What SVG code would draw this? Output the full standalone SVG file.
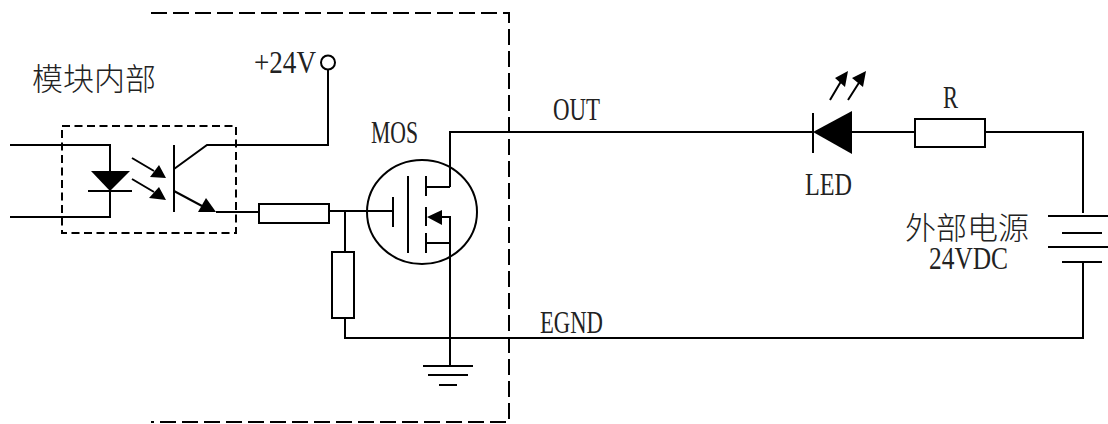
<svg xmlns="http://www.w3.org/2000/svg" width="1108" height="424" viewBox="0 0 1108 424">
<style>
.w{fill:none;stroke:#000;stroke-width:2}
.t{stroke:#000;stroke-width:2;fill:none}
.d{fill:none;stroke:#000;stroke-width:2;stroke-dasharray:16 6}
.o{fill:none;stroke:#000;stroke-width:2;stroke-dasharray:8 4.5}
.f{fill:#000}
.r{fill:#fff;stroke:#000;stroke-width:2}
text{fill:#222}
.cn{font-family:"Noto Sans CJK SC",sans-serif;font-weight:300;font-size:31px}
.l{font-family:"Liberation Serif","Noto Sans CJK SC",serif;font-size:32px;lengthAdjust:spacingAndGlyphs}
</style>
<g id="boundary"><path class="d" d="M151 13H509V422H151"/></g>
<g id="connectors">
<path class="w" d="M10 145H110V217H10"/>
<path class="w" d="M174 169L207 145H328V70"/>
<path class="w" d="M216 212H259"/>
<path class="w" d="M329 211H393"/>
<path class="w" d="M345 211V252"/>
<path class="w" d="M345 318V338H1083V262"/>
<path class="w" d="M450 187V132H813"/>
<path class="w" d="M852 132H915"/>
<path class="w" d="M985 132H1083V213"/>
<path class="w" d="M436 217H450V365"/>
<path class="w" d="M426 187H450M426 243H450"/>
</g>
<g id="optocoupler">
<path class="o" d="M62 126H236V233H62Z"/>
<path class="f" d="M91 171H130L110 191Z"/>
<path class="t" d="M88 191H132"/>
<path class="t" d="M132 158L154 171M132 179L154 192"/>
<path class="f" d="M166 178L150 177L159 165ZM166 200L149 198L159 187Z"/>
<path class="t" d="M174 145V212"/>
<path class="t" d="M174 191L202 206"/>
<path class="f" d="M216 212L198 212L206 198Z"/>
</g>
<g id="module-label"><text class="cn" x="32" y="90">模块内部</text></g>
<g id="supply-pin"><circle class="t" cx="328" cy="62.500" r="7"/><text class="l" x="254" y="73" textLength="62" lengthAdjust="spacingAndGlyphs">+24V</text></g>
<g id="r-gate"><rect class="r" x="259" y="204" width="70" height="19"/></g>
<g id="r-pull"><rect class="r" x="332" y="252" width="22" height="66"/></g>
<g id="mos">
<ellipse class="t" cx="422" cy="212" rx="55" ry="52"/>
<path class="t" d="M393 197V227M408 176V253M426 176V196M426 207V226M426 233V253"/>
<path class="f" d="M427 217L442 210V225Z"/>
<text class="l" x="371" y="143" textLength="47" lengthAdjust="spacingAndGlyphs">MOS</text>
</g>
<g id="led">
<path class="f" d="M813 132L852 111V154Z"/>
<path class="t" d="M813 113V153"/>
<path class="t" d="M830 100L843 78M848 100L862 78"/>
<path class="f" d="M848 71L835 78L845 87ZM866 71L852 78L863 87Z"/>
<text class="l" x="805" y="195" textLength="47" lengthAdjust="spacingAndGlyphs">LED</text>
</g>
<g id="r-led"><rect class="r" x="915" y="119" width="70" height="28"/><text class="l" x="943" y="108" textLength="15" lengthAdjust="spacingAndGlyphs">R</text></g>
<g id="battery">
<path class="t" d="M1048 216H1108M1062 233H1102M1048 247H1108M1062 262H1102"/>
<text class="cn" x="905" y="239">外部电源</text>
<text class="l" x="929" y="269" textLength="79" lengthAdjust="spacingAndGlyphs">24VDC</text>
</g>
<g id="ground"><path class="t" d="M423 366H473M428 375H468M439 385H457"/></g>
<g id="labels"><text class="l" x="553" y="120" textLength="47" lengthAdjust="spacingAndGlyphs">OUT</text><text class="l" x="540" y="333" textLength="63" lengthAdjust="spacingAndGlyphs">EGND</text></g>
</svg>
